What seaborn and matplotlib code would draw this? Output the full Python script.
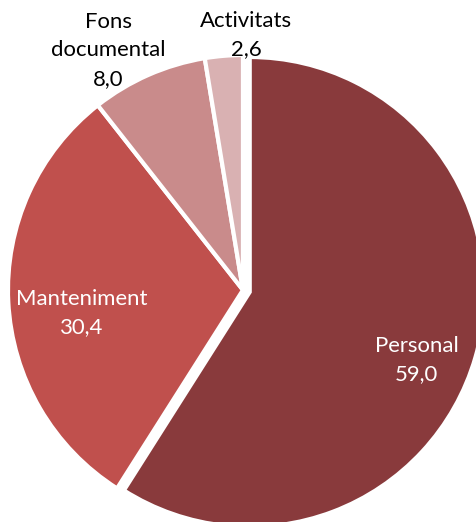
import matplotlib
matplotlib.use('Agg')
import matplotlib.pyplot as plt
import seaborn as sns

# data
categories = ['Personal', 'Manteniment', 'Fons\ndocumental', 'Activitats']
values = [59.0, 30.4, 8.0, 2.6]
value_labels = ['59,0', '30,4', '8,0', '2,6']
colors = ['#893A3C', '#C0504D', '#C98B8B', '#D9B1B2']

sns.set_theme(style='white')
plt.rcParams['font.family'] = ['Lato', 'DejaVu Sans']

fig = plt.figure(figsize=(4.77, 5.22), dpi=100)
ax = fig.add_axes([0, 0, 1, 1])

wedges, _ = ax.pie(values, colors=colors, startangle=90, counterclock=False,
                   explode=[0.03, 0, 0, 0],
                   wedgeprops=dict(edgecolor='white', linewidth=3))

# label placement (data units, radius = 1)
label_pos = [(0.74, -0.298), (-0.685, -0.098), (-0.574, 1.02), (0.013, 1.085)]
label_color = ['white', 'white', 'black', 'black']
for cat, val, (x, y), c in zip(categories, value_labels, label_pos, label_color):
    ax.text(x, y, '{}\n{}'.format(cat, val), ha='center', va='center',
            fontsize=15.9, color=c, linespacing=1.55)

ax.set_xlim(-1.034, 0.996)
ax.set_ylim(-0.987, 1.234)
ax.set_aspect('equal', adjustable='box')
ax.axis('off')

fig.savefig('out.png', dpi=100, facecolor='white')
